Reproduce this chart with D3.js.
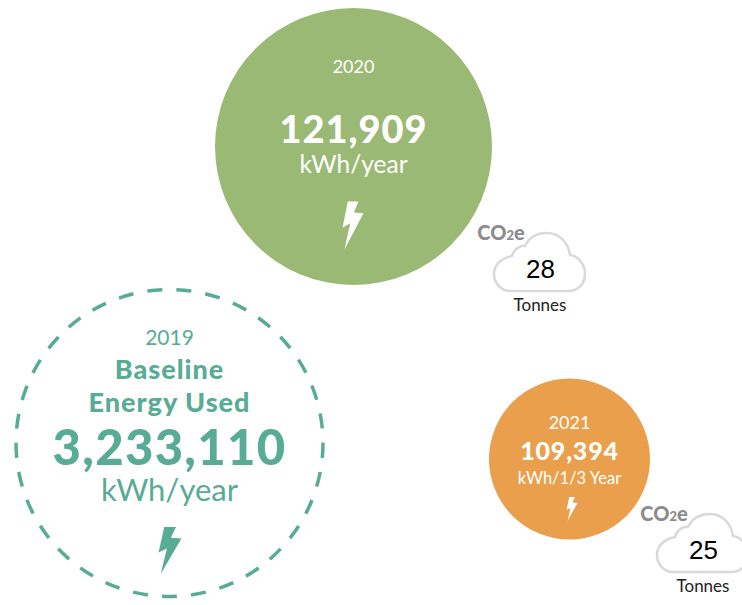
<!DOCTYPE html>
<html>
<head>
<meta charset="utf-8">
<script src="https://cdn.jsdelivr.net/npm/d3@7"></script>
<style>
html, body { margin: 0; padding: 0; background: #fff; overflow: hidden; }
text { font-family: Lato, "Open Sans", sans-serif; text-anchor: middle; }
</style>
</head>
<body>
<div id="chart"></div>
<script>
// values
const years = ['2019', '2020', '2021'];
const energy = [3233110, 121909, 109394];
const units = ['kWh/year', 'kWh/year', 'kWh/1/3 Year'];
const co2Years = ['2020', '2021'];
const co2Tonnes = [28, 25];
const baselineLines = ['Baseline', 'Energy Used'];

const width = 742, height = 605;

// layout per circle, not data
const colors = d3.scaleOrdinal().domain(years).range(['#58ab95', '#9ab975', '#e99f4c']);
const radius = d3.scaleOrdinal().domain(years).range([153.5, 138.5, 80.5]);
const centerX = d3.scaleOrdinal().domain(years).range([169.5, 353.5, 569.5]);
const centerY = d3.scaleOrdinal().domain(years).range([443, 146.5, 459]);
const numFmt = d3.format(',');

// text offsets from the circle centre: year, number, unit, bolt box
const layout = {
    '2019': { year: [-98, 21, 0], num: [22, 49, 1.3], unit: [58, 31, 0], bolt: [-11, 84, 23, 47] },
    '2020': { year: [-74, 18, 0], num: [-4, 38, 1], unit: [26, 24.5, 0], bolt: [-11, 55, 21, 48] },
    '2021': { year: [-30, 18, 0], num: [1, 25, .8], unit: [25, 16.5, 0], bolt: [-3, 38, 11, 24] }
};

const svg = d3.select('#chart').append('svg')
    .attr('width', width)
    .attr('height', height)
    .style('display', 'block');

// bolt outline in a 1x1 box
const boltShape = [[.25, 0], [.76, 0], [.54, .23], [1, .245], [.095, 1], [.365, .455], [0, .545]];
const boltLine = d3.line();

const groups = svg.selectAll('g.bubble')
    .data(years)
    .enter()
    .append('g')
    .attr('class', 'bubble')
    .attr('transform', d => 'translate(' + centerX(d) + ',' + centerY(d) + ')');

groups.append('circle')
    .attr('r', d => radius(d))
    .style('fill', d => d === '2019' ? 'none' : colors(d))
    .style('stroke', d => d === '2019' ? colors(d) : 'none')
    .style('stroke-width', 3.5)
    .style('stroke-dasharray', d => d === '2019' ? '15,14.2' : null);

const ink = d => d === '2019' ? colors(d) : '#fff';

groups.append('text')
    .attr('y', d => layout[d].year[0])
    .style('font-size', d => layout[d].year[1] + 'px')
    .style('font-weight', 400)
    .style('fill', ink)
    .text(d => d);

groups.append('text')
    .attr('y', d => layout[d].num[0])
    .style('font-size', d => layout[d].num[1] + 'px')
    .style('letter-spacing', d => layout[d].num[2] + 'px')
    .style('font-weight', 900)
    .style('fill', ink)
    .text((d, i) => numFmt(energy[i]));

groups.append('text')
    .attr('y', d => layout[d].unit[0])
    .style('font-size', d => layout[d].unit[1] + 'px')
    .style('font-weight', 400)
    .style('fill', ink)
    .text((d, i) => units[i]);

groups.append('path')
    .attr('d', d => {
        const b = layout[d].bolt;
        return boltLine(boltShape.map(p => [b[0] + p[0] * b[2], b[1] + p[1] * b[3]])) + 'Z';
    })
    .style('fill', ink);

// baseline heading only on the 2019 circle
svg.selectAll('text.baseline')
    .data(baselineLines)
    .enter()
    .append('text')
    .attr('class', 'baseline')
    .attr('x', centerX('2019'))
    .attr('y', (d, i) => centerY('2019') - 64 + i * 33)
    .style('font-size', '27px')
    .style('letter-spacing', '1px')
    .style('font-weight', 900)
    .style('fill', colors('2019'))
    .text(d => d);

// clouds
const cloudX = d3.scaleOrdinal().domain(co2Years).range([493, 656]);
const cloudY = d3.scaleOrdinal().domain(co2Years).range([232, 513]);
const cloudPath = 'M17,59 H75 C86,59 92,51 92,42 C92,32 85,24 77,23 C75,10 66,1 54,1 ' +
    'C44,1 36,6 32,14 C29,13 21,16 19,24 C8,26 1,33 1,42 C1,51 8,59 17,59 Z';

const clouds = svg.selectAll('g.cloud')
    .data(co2Years)
    .enter()
    .append('g')
    .attr('class', 'cloud')
    .attr('transform', d => 'translate(' + cloudX(d) + ',' + cloudY(d) + ')');

clouds.append('path')
    .attr('d', cloudPath)
    .style('fill', '#fff')
    .style('stroke', '#d9d9d9')
    .style('stroke-width', 2.5);

clouds.append('text')
    .attr('x', 47.5)
    .attr('y', 46)
    .style('font-family', '"Liberation Sans", Arial, sans-serif')
    .style('font-size', '26px')
    .style('fill', '#000')
    .text((d, i) => co2Tonnes[i]);

clouds.append('text')
    .attr('x', 47)
    .attr('y', 79)
    .style('font-size', '17px')
    .style('fill', '#222')
    .text('Tonnes');

const co2Label = clouds.append('text')
    .attr('x', 8)
    .attr('y', 8)
    .style('font-weight', 900)
    .style('font-size', '20px')
    .style('fill', '#8c8c8c');
co2Label.append('tspan').text('CO');
co2Label.append('tspan').style('font-size', '13px').text('2');
co2Label.append('tspan').text('e');
</script>
</body>
</html>
